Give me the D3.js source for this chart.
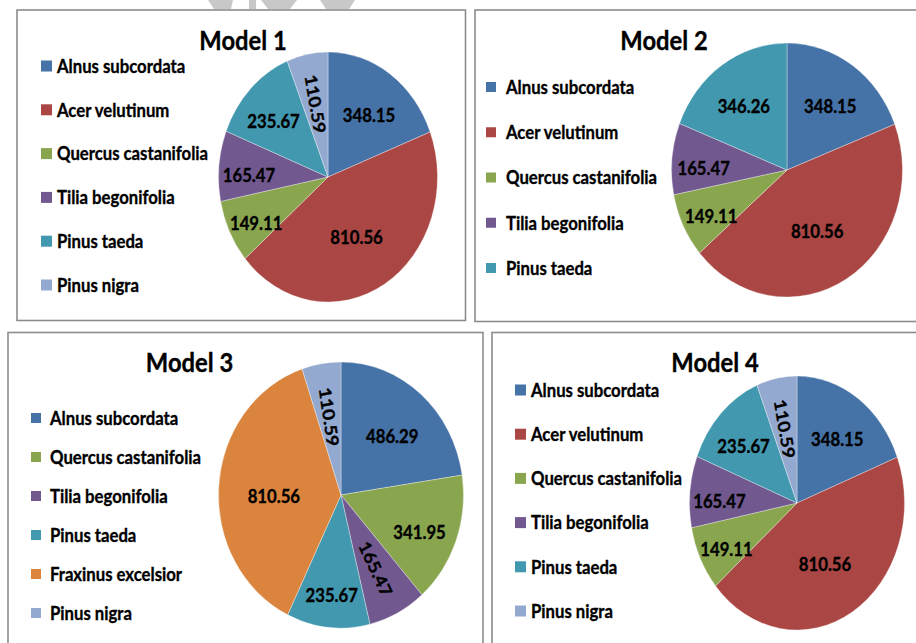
<!DOCTYPE html>
<html><head><meta charset="utf-8">
<script src="https://cdn.jsdelivr.net/npm/d3@7"></script>
<style>body{margin:0;background:#fff} svg{display:block}</style>
</head><body>
<svg id="c" width="916" height="643"></svg>
<script>
// ---------- data ----------
const species = ["Alnus subcordata","Acer velutinum","Quercus castanifolia","Tilia begonifolia","Pinus taeda","Fraxinus excelsior","Pinus nigra"];
const speciesColors = ["#4572A7","#AA4643","#89A54E","#71588F","#4198AF","#DB843D","#93A9CF"];

const titles = ["Model 1","Model 2","Model 3","Model 4"];

const model1Species = ["Alnus subcordata","Acer velutinum","Quercus castanifolia","Tilia begonifolia","Pinus taeda","Pinus nigra"];
const model1Values  = [348.15, 810.56, 149.11, 165.47, 235.67, 110.59];

const model2Species = ["Alnus subcordata","Acer velutinum","Quercus castanifolia","Tilia begonifolia","Pinus taeda"];
const model2Values  = [348.15, 810.56, 149.11, 165.47, 346.26];

const model3Species = ["Alnus subcordata","Quercus castanifolia","Tilia begonifolia","Pinus taeda","Fraxinus excelsior","Pinus nigra"];
const model3Values  = [486.29, 341.95, 165.47, 235.67, 810.56, 110.59];

const model4Species = ["Alnus subcordata","Acer velutinum","Quercus castanifolia","Tilia begonifolia","Pinus taeda","Pinus nigra"];
const model4Values  = [348.15, 810.56, 149.11, 165.47, 235.67, 110.59];

// ---------- layout (presentation only) ----------
const layouts = [
  {box:[17,10,465.5,320.5], titleX:243, titleY:50, sqX:41, sq:11, txtX:57, legY0:66, legDY:43.8, cx:328, cy:177, ry:125, rx:109.5},
  {box:[475,10,920,321.5], titleX:664, titleY:50, sqX:486, sq:10, txtX:506, legY0:87, legDY:45.25, cx:787, cy:170, ry:127, rx:115.5},
  {box:[8,332.5,483,660], titleX:189.5, titleY:372, sqX:31, sq:10, txtX:50, legY0:418, legDY:39, cx:341, cy:495, ry:133, rx:122.5},
  {box:[492,332.5,920,660], titleX:715, titleY:372, sqX:515, sq:11, txtX:531, legY0:390, legDY:44.2, cx:797, cy:503, ry:127, rx:107.5}
];
const models = [
  [model1Species, model1Values],
  [model2Species, model2Values],
  [model3Species, model3Values],
  [model4Species, model4Values]
];
const TS = 0.88; // horizontal squeeze of text
const FONT = "Lato, 'Open Sans', sans-serif";

const svg = d3.select("#c");
const color = d3.scaleOrdinal().domain(species).range(speciesColors);

// watermark fragments at top
const wm = [
  [[208,0],[233,0],[231,9],[214,9]],
  [[249,0],[256,0],[256,9],[249,9]],
  [[261,0],[297,0],[290,9],[268,9]],
  [[320,0],[355,0],[349,9],[326,9]]
];
svg.append("g").selectAll("path").data(wm).join("path")
  .attr("d", d => d3.line()(d) + "Z").attr("fill", "#c8c8c8");

function boldText(sel) {
  return sel.attr("font-family", FONT).attr("font-weight", 700)
    .attr("fill", "#000").attr("stroke", "#000").attr("stroke-width", 0.35);
}

models.forEach(([names, vals], i) => {
  const L = layouts[i];
  const g = svg.append("g");
  // border
  g.append("rect")
    .attr("x", L.box[0]).attr("y", L.box[1])
    .attr("width", L.box[2]-L.box[0]).attr("height", L.box[3]-L.box[1])
    .attr("fill", "#fff").attr("stroke", "#8c8c8c").attr("stroke-width", 1.6);

  // title
  boldText(g.append("text"))
    .attr("transform", `translate(${L.titleX},${L.titleY}) scale(${TS},1)`)
    .attr("text-anchor", "middle").attr("font-size", 27)
    .text(titles[i]);

  // legend
  const data = names.map((n, k) => ({name: n, v: vals[k]}));
  const leg = g.append("g");
  const items = leg.selectAll("g").data(data).join("g")
    .attr("transform", (d, k) => `translate(0,${L.legY0 + k*L.legDY})`);
  items.append("rect").attr("x", L.sqX).attr("y", -L.sq/2)
    .attr("width", L.sq).attr("height", L.sq).attr("fill", d => color(d.name));
  boldText(items.append("text"))
    .attr("transform", `translate(${L.txtX},0) scale(${TS},1)`)
    .attr("dy", "0.36em").attr("font-size", 19)
    .text(d => d.name);

  // pie
  const sx = L.rx / L.ry;
  const R = L.ry;
  const pg = g.append("g").attr("transform", `translate(${L.cx},${L.cy}) scale(${sx},1)`);
  const arcs = d3.pie().sort(null).value(d => d.v)(data);
  const arc = d3.arc().innerRadius(0).outerRadius(R);
  pg.selectAll("path").data(arcs).join("path")
    .attr("d", arc).attr("fill", d => color(d.data.name))
    .attr("stroke", "#ffffff").attr("stroke-opacity", 0.6).attr("stroke-width", 0.6);

  boldText(pg.selectAll("text").data(arcs).join("text"))
    .attr("transform", d => {
      const span = (d.endAngle - d.startAngle) * 180 / Math.PI;
      const mid = (d.startAngle + d.endAngle) / 2;
      const rotated = span < 28.5;
      const f = rotated ? 0.61 : Math.max(0.5, Math.min(0.76, 0.78 - 0.0017 * span));
      const x = R * f * Math.sin(mid), y = -R * f * Math.cos(mid) + (rotated ? 2 : 6);
      let rot = 0;
      if (rotated) {
        rot = mid * 180 / Math.PI - 90;
        if (rot > 90) rot -= 180;
        if (rot < -90) rot += 180;
      }
      return `translate(${x},${y}) scale(${TS/sx},1) rotate(${rot})`;
    })
    .attr("text-anchor", "middle").attr("dy", "0.36em").attr("font-size", 19)
    .text(d => d3.format(".2f")(d.data.v));
});
</script>
</body></html>
